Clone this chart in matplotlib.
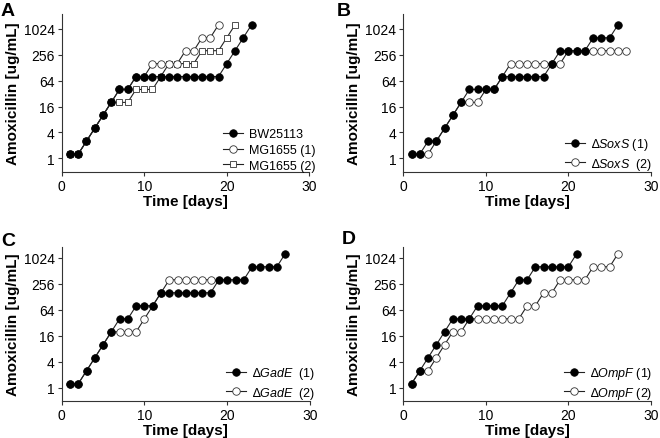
import matplotlib
matplotlib.use("Agg")
import matplotlib.pyplot as plt
from matplotlib.ticker import FixedLocator, NullLocator

plt.rcParams['font.family'] = ['Liberation Sans', 'DejaVu Sans']
plt.rcParams['mathtext.fontset'] = 'custom'
plt.rcParams['mathtext.it'] = 'Liberation Sans:italic'
plt.rcParams['mathtext.rm'] = 'Liberation Sans'

# ---- data (Amoxicillin ug/mL per day) ----
A_bw25113 = [1.25, 1.25, 2.5, 5, 10, 20, 40, 40, 80, 80, 80, 80, 80, 80, 80, 80, 80, 80, 80, 160, 320, 640, 1280]
A_mg1655_1 = [1.25, 1.25, 2.5, 5, 10, 20, 40, 40, 80, 80, 160, 160, 160, 160, 320, 320, 640, 640, 1280]
A_mg1655_2 = [1.25, 1.25, 2.5, 5, 10, 20, 20, 20, 40, 40, 40, 80, 160, 160, 160, 160, 320, 320, 320, 640, 1280]

B_soxs_1 = [1.25, 1.25, 2.5, 2.5, 5, 10, 20, 40, 40, 40, 40, 80, 80, 80, 80, 80, 80, 160, 320, 320, 320, 320, 640, 640, 640, 1280]
B_soxs_2 = [1.25, 1.25, 1.25, 2.5, 5, 10, 20, 20, 20, 40, 40, 80, 160, 160, 160, 160, 160, 160, 160,
            320, 320, 320, 320, 320, 320, 320, 320]

C_gade_1 = [1.25, 1.25, 2.5, 5, 10, 20, 40, 40, 80, 80, 80, 160, 160, 160, 160, 160, 160, 160,
            320, 320, 320, 320, 640, 640, 640, 640, 1280]
C_gade_2 = [1.25, 1.25, 2.5, 5, 10, 20, 20, 20, 20, 40, 80, 160, 320, 320, 320, 320, 320, 320]

D_ompf_1 = [1.25, 2.5, 5, 10, 20, 40, 40, 40, 80, 80, 80, 80, 160, 320, 320, 640, 640, 640, 640, 640, 1280]
D_ompf_2 = [1.25, 2.5, 2.5, 5, 10, 20, 20, 40, 40, 40, 40, 40, 40, 40, 80, 80, 160, 160,
            320, 320, 320, 320, 640, 640, 640, 1280]

y_ticks = [1, 4, 16, 64, 256, 1024]
x_ticks = [0, 10, 20, 30]

def days(v):
    return list(range(1, len(v) + 1))

W, H = 660, 439
fig = plt.figure(figsize=(W / 100, H / 100), dpi=100)

def make_ax(left, right, bottom, top):
    return fig.add_axes([left / W, 1 - bottom / H, (right - left) / W, (bottom - top) / H])

axA = make_ax(61.7, 309.3, 172.7, 15)
axB = make_ax(403.3, 651, 172.7, 15)
axC = make_ax(61.7, 310, 401.7, 248)
axD = make_ax(403.3, 651, 401.7, 248)

lc = '#222222'
filled = dict(marker='o', color=lc, markerfacecolor='black', markeredgecolor='black',
              markersize=5.4, linewidth=0.8, markeredgewidth=0.6)
opencirc = dict(marker='o', color=lc, markerfacecolor='white', markeredgecolor='#333333',
                markersize=5.4, linewidth=0.8, markeredgewidth=0.6)
opensq = dict(marker='s', color=lc, markerfacecolor='white', markeredgecolor='#333333',
              markersize=5.0, linewidth=0.8, markeredgewidth=0.6)

def style(ax, ylim):
    ax.set_yscale('log', base=2)
    ax.set_ylim(*ylim)
    ax.set_xlim(0, 30)
    ax.yaxis.set_major_locator(FixedLocator(y_ticks))
    ax.yaxis.set_minor_locator(NullLocator())
    ax.set_yticklabels([str(t) for t in y_ticks])
    ax.set_xticks(x_ticks)
    for s in ['top', 'right']:
        ax.spines[s].set_visible(False)
    for s in ['left', 'bottom']:
        ax.spines[s].set_linewidth(0.8)
        ax.spines[s].set_color('#333333')
    ax.tick_params(direction='out', length=3, width=0.8, color='#333333', labelsize=10, pad=2)
    ax.set_xlabel('Time [days]', fontsize=11, fontweight='bold', labelpad=1)
    ax.set_ylabel('Amoxicillin [ug/mL]', fontsize=11, fontweight='bold', labelpad=3)

def leg(ax, anchor):
    h, l = ax.get_legend_handles_labels()
    ax.legend(h[::-1], l[::-1], loc='lower right', bbox_to_anchor=anchor, frameon=False, fontsize=9,
              handlelength=1.6, handletextpad=0.5, labelspacing=0.3, borderpad=0, borderaxespad=0)

top_ylim = (2 ** -1.04, 2 ** 11.16)
bot_ylim = (2 ** -0.98, 2 ** 10.84)

# A
axA.plot(days(A_mg1655_2), A_mg1655_2, label='MG1655 (2)', **opensq)
axA.plot(days(A_mg1655_1), A_mg1655_1, label='MG1655 (1)', **opencirc)
axA.plot(days(A_bw25113), A_bw25113, label='BW25113', **filled)
style(axA, top_ylim)
leg(axA, (1.025, 0.0))

# B
axB.plot(days(B_soxs_2), B_soxs_2, label=r'$\mathit{∆SoxS}$  (2)', **opencirc)
axB.plot(days(B_soxs_1), B_soxs_1, label=r'$\mathit{∆SoxS}$ (1)', **filled)
style(axB, top_ylim)
leg(axB, (1.005, 0.0))

# C
axC.plot(days(C_gade_2), C_gade_2, label=r'$\mathit{∆GadE}$  (2)', **opencirc)
axC.plot(days(C_gade_1), C_gade_1, label=r'$\mathit{∆GadE}$  (1)', **filled)
style(axC, bot_ylim)
leg(axC, (1.02, 0.0))

# D
axD.plot(days(D_ompf_2), D_ompf_2, label=r'$\mathit{∆OmpF}$ (2)', **opencirc)
axD.plot(days(D_ompf_1), D_ompf_1, label=r'$\mathit{∆OmpF}$ (1)', **filled)
style(axD, bot_ylim)
leg(axD, (1.005, 0.0))

for letter, x, y in [('A', 1, 16), ('B', 337, 15.5), ('C', 1.5, 246.5), ('D', 341.5, 244.5)]:
    fig.text(x / W, 1 - y / H, letter, fontsize=14, fontweight='bold', va='baseline', ha='left')

fig.savefig('out.png', dpi=100)
